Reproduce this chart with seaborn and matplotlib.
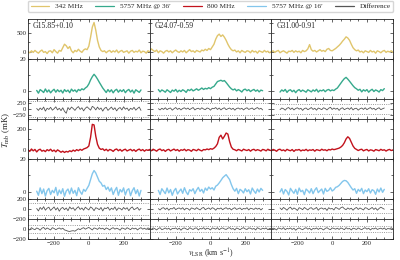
import numpy as np
import matplotlib
matplotlib.use("Agg")
import matplotlib.pyplot as plt
from matplotlib.lines import Line2D
from matplotlib.ticker import MultipleLocator, NullLocator
import seaborn as sns

# velocity channels (km/s)
v_full = np.arange(-350, 351, 10)
v_cut = np.arange(-300, 301, 10)

sources = ["G15.85+0.10", "G24.07-0.59", "G31.00-0.91"]

# 342 MHz (mK)
t342 = [
    [10, -20, 30, -10, 40, 0, -30, 20, 50, -10,
     10, -40, 20, 30, -20, 60, 10, -30, 40, 20,
     110, 200, 160, 90, 140, 30, -20, 40, 10, 70,
     20, -10, 50, 80, 60, 150, 380, 640, 760, 560,
     300, 130, 40, 10, 30, -20, 20, 40, -10, 30,
     0, 50, -20, 20, 40, -10, 10, 30, -30, 20,
     40, -10, 20, 0, 50, -20, 20, 10, -30, 30,
     10],
    [20, 80, 40, 10, 50, -20, 30, 10, -30, 20,
     40, 0, 30, -20, 20, 50, 10, -10, 30, 0,
     40, -20, 20, 60, 10, 30, -10, 40, 20, 0,
     50, 30, 70, 40, 90, 60, 130, 200, 330, 420,
     460, 400, 440, 380, 300, 200, 120, 60, 30, 50,
     0, 30, -20, 40, 10, -10, 30, 20, -20, 40,
     0, 20, -30, 30, 10, -10, 40, 0, 20, -20,
     10],
    [0, 30, -10, 20, 40, -20, 10, 30, 0, -30,
     20, 10, 40, -10, 30, 0, 20, -20, 40, 10,
     30, 80, 190, 60, 20, 40, 0, 30, 60, 20,
     40, 10, 70, 90, 40, 30, 60, 90, 130, 170,
     220, 280, 330, 390, 360, 300, 200, 110, 60, 30,
     50, 0, 20, -20, 30, 10, -10, 40, 0, 20,
     -30, 30, 10, -20, 20, 40, -10, 20, 0, 30,
     -10],
]

# 5757 MHz @ 36' (mK)
t36 = [
    [0.5, -1.2, 1.0, 0.2, -0.8, 1.4, -0.5, 0.8, -1.0, 0.3,
     1.2, -0.6, 0.9, -0.3, 0.6, -1.1, 1.0, -0.2, 0.7, -0.9,
     1.3, 0.0, 0.8, -0.5, 1.1, 0.4, 1.5, 0.9, 2.0, 2.8,
     4.5, 7.0, 9.0, 10.5, 9.2, 7.5, 5.6, 3.8, 2.0, 0.6,
     -0.8, 1.0, -0.4, 0.9, -1.0, 0.5, 1.2, -0.6, 0.8, -0.2,
     1.0, -0.9, 0.4, 1.1, -0.5, 0.7, -1.2, 0.9, 0.1, -0.7,
     0.8],
    [1.0, -0.4, 0.8, 0.2, -0.6, 0.9, 0.1, -0.8, 0.7, 0.0,
     1.1, -0.5, 0.6, -0.2, 0.9, 0.3, -0.7, 1.0, 0.4, 1.3,
     0.2, 0.8, 1.5, 0.6, 1.2, 2.0, 1.1, 1.8, 1.4, 2.2,
     1.6, 2.5, 3.0, 4.5, 6.0, 6.4, 6.8, 6.2, 6.6, 5.4,
     4.0, 2.6, 1.5, 0.8, 1.4, 0.2, 1.0, 0.4, -0.5, 0.9,
     1.3, 0.3, 1.0, -0.2, 0.6, 1.1, 0.0, 0.8, -0.4, 0.7,
     0.3],
    [-0.5, 0.8, 0.0, 1.1, -0.7, 0.5, 0.9, -0.3, 0.6, -0.9,
     0.4, 1.0, -0.2, 0.7, 0.1, -0.6, 0.9, 0.3, -0.4, 0.8,
     0.0, 1.2, -0.5, 0.6, 0.2, 0.9, -0.3, 0.7, 1.1, 0.2,
     0.8, 0.4, 1.3, 2.0, 3.5, 5.0, 6.5, 7.8, 8.6, 7.5,
     6.2, 4.8, 3.4, 2.2, 1.5, 0.6, 1.2, -0.4, 0.9, 0.1,
     1.0, -0.6, 0.5, 1.2, -0.2, 0.8, 0.3, -0.5, 1.0, 0.4,
     1.6],
]

# difference 342 MHz vs 36' (mK)
d36 = [
    [20, -60, 40, -30, 80, -90, 30, -20, 70, -50,
     10, 90, -40, 30, -70, 50, -100, -180, 60, -30,
     80, 20, -60, 40, 100, -20, 50, -80, 30, 90,
     20, -50, 110, 60, -40, 80, -20, 40, -90, 30,
     70, -60, 10, 80, -30, 50, -80, 20, 60, -40,
     90, -10, 40, -70, 30, -20, 70, -50, 20, 80,
     -60],
    [10, -40, 30, -20, 50, -30, 20, 40, -50, 10,
     60, -20, 30, -40, 20, 50, -10, 40, -30, 20,
     60, -40, 10, 30, -20, 50, 0, -30, 40, 20,
     -50, 30, 10, 60, -20, 40, -40, 20, 50, -30,
     10, 40, -20, 30, -50, 20, 40, -10, 30, -40,
     20, 50, -20, 10, 40, -30, 20, 60, -10, 30,
     -40],
    [-30, 40, 10, -50, 30, 60, -20, 40, -40, 20,
     50, -10, 30, -60, 20, 40, -30, 10, 60, -20,
     30, -50, 40, 10, -30, 50, 20, -40, 30, 70,
     -20, 40, -10, 30, -60, 20, 50, -30, 10, 40,
     -20, 60, -40, 20, 30, -50, 10, 40, -20, 50,
     -30, 20, 60, -10, 30, -40, 20, 50, -30, 10,
     40],
]

# 800 MHz (mK)
t800 = [
    [5, -10, 12, -5, 8, -15, 3, 10, -8, 0,
     -12, 6, -4, 10, -9, 2, -14, 4, -6, -18,
     -8, -20, -10, -16, -4, -12, 2, -8, 6, -3,
     9, 0, 12, 18, 25, 40, 120, 240, 235, 130,
     55, 20, 8, 14, -2, 10, -6, 8, 2, -10,
     6, 12, -4, 8, -8, 4, 10, -6, 2, 9,
     -5, 6, -10, 4, 11, -3, 7, -8, 5, 0,
     8],
    [8, -4, 10, 2, -8, 6, 12, -3, 5, -10,
     4, 9, -6, 3, 11, -2, 7, -8, 5, 0,
     10, -5, 6, 2, -9, 8, 3, -4, 10, 1,
     -6, 7, 4, 12, 6, 15, 10, 20, 35, 60,
     120, 140, 105, 130, 160, 150, 80, 30, 10, 5,
     -4, 8, 2, -6, 10, 3, -2, 7, -8, 5,
     9, -3, 6, 1, -7, 8, 4, -5, 10, 2,
     -3],
    [-5, 8, 2, -9, 6, 10, -3, 4, -7, 9,
     1, -4, 7, -10, 5, 2, 8, -6, 3, -2,
     9, -5, 4, 0, 7, -8, 6, 2, -3, 10,
     1, 5, -4, 8, 3, 12, 6, 10, 15, 20,
     30, 45, 70, 105, 125, 110, 75, 40, 18, 8,
     -2, 6, 10, -5, 3, 8, -6, 4, 1, -8,
     7, 2, -4, 9, 0, 5, -7, 3, 8, -2,
     4],
]

# 5757 MHz @ 16' (mK)
t16 = [
    [0.5, -2.0, 2.5, -1.0, 1.8, -2.5, 0.8, 2.2, -1.5, 1.0,
     -0.5, 2.8, -2.0, 1.2, -1.0, 2.0, -2.6, 0.6, 1.8, -1.2,
     2.4, -0.8, 1.0, -2.2, 2.6, 0.2, -1.4, 1.6, 0.4, 2.2,
     4.0, 7.5, 11.0, 13.0, 11.5, 9.0, 6.5, 5.5, 3.5, 4.0,
     1.5, 3.0, 0.5, 2.5, -1.5, 1.0, 2.8, -2.0, 1.5, 0.0,
     2.5, -1.8, 1.2, 2.0, -2.2, 0.8, 2.6, -1.0, 1.4, -2.4,
     1.0],
    [1.0, -1.5, 2.0, 0.5, -1.0, 2.4, -0.5, 1.5, -2.0, 0.8,
     2.2, -1.2, 0.4, 1.8, -0.8, 2.6, 0.0, -1.6, 1.4, 0.6,
     2.0, -1.0, 1.2, 2.8, 0.4, 1.6, -0.6, 2.4, 1.0, 3.0,
     1.8, 2.6, 1.2, 3.5, 4.2, 5.5, 7.0, 8.6, 9.6, 10.5,
     9.0, 7.5, 4.5, 2.0, 0.5, 2.2, -1.0, 1.6, 0.8, -0.6,
     2.0, 0.2, 1.4, -1.2, 2.4, 0.6, -0.8, 1.8, 0.0, 2.2,
     1.0],
    [0.0, 2.0, -1.2, 1.5, 0.4, -1.8, 2.2, 0.6, -0.8, 1.6,
     -1.4, 2.4, 0.2, 1.0, -1.6, 1.8, 0.8, -0.6, 2.0, -1.0,
     1.2, 2.6, -0.4, 0.8, 1.8, -1.2, 2.2, 0.4, 1.0, 2.6,
     0.6, 1.4, 2.8, 3.2, 4.0, 5.2, 6.4, 7.0, 6.8, 5.8,
     4.2, 2.6, 1.2, 2.0, -0.8, 1.6, 0.4, 2.2, -1.0, 1.2,
     0.2, 2.0, -0.6, 1.4, 0.8, -1.4, 1.8, 0.0, 2.4, -0.2,
     1.6],
]

# difference 800 MHz vs 16' (mK)
d16 = [
    [10, -40, 30, -10, 45, -25, 15, 35, -30, 5,
     40, -20, 25, -45, 10, 30, -15, 20, -35, 40,
     0, 25, -30, 15, 45, -10, 20, -25, 35, 5,
     -20, 40, 15, -35, 25, 10, -15, 30, -40, 20,
     5, 35, -25, 15, -10, 40, -30, 20, 10, -20,
     30, -5, 25, -35, 15, 40, -15, 5, 30, -25,
     10],
    [5, -20, 15, 25, -10, 20, -25, 10, 0, 30,
     -15, 10, 20, -5, 25, -20, 15, 5, -25, 20,
     10, -10, 25, 0, -20, 15, 30, -15, 5, 20,
     -10, 25, 10, -25, 15, 0, 20, -15, 10, 25,
     -5, 15, -20, 10, 25, -10, 5, 20, -15, 10,
     0, 25, -20, 15, 5, -10, 20, -5, 15, -20,
     10],
    [20, -15, 30, 5, -25, 15, 35, -10, 20, 0,
     -30, 25, 10, -15, 30, 5, -20, 15, 25, -10,
     5, 30, -25, 10, 20, -5, 15, -30, 25, 0,
     10, -20, 30, 15, -10, 25, 40, 5, -15, 20,
     -5, 15, -25, 10, 30, -10, 20, 0, -20, 25,
     15, -15, 5, 30, -10, 20, -25, 10, 35, 15,
     -5],
]

# difference 342 MHz vs 800 MHz (mK)
d800 = [
    [10, -20, 25, 0, -15, 20, 5, -25, 15, 30,
     -10, 20, 0, -20, 25, 10, -15, 5, 20, -5,
     15, -20, -30, -45, -50, -40, -35, -45, -20, 5,
     -15, 10, 25, -5, 15, 30, 5, -20, 20, 10,
     -10, 25, 0, 15, -15, 20, 5, -20, 10, 25,
     -5, 15, 0, -25, 20, 10, -10, 25, 5, -15,
     20, 0, 15, -20, 10, 25, -5, 15, -10, 20,
     5],
    [15, -10, 20, 5, -20, 10, 25, -15, 0, 20,
     -5, 15, -20, 10, 5, 20, -10, 15, -25, 10,
     20, 0, -15, 25, 5, -10, 15, 20, -20, 10,
     0, 25, -10, 15, 5, -20, 20, 10, -5, 25,
     -15, 10, 20, 0, -10, 15, 25, -5, 10, -20,
     20, 5, -15, 10, 25, 0, -10, 20, 15, -5,
     10, -20, 25, 5, -10, 15, 0, 20, -15, 10,
     5],
    [-10, 15, 5, -20, 20, 10, -5, 25, -15, 10,
     0, 20, -10, 15, -25, 5, 20, 0, -15, 10,
     25, -5, 15, -20, 10, 0, 20, -10, 15, 5,
     -20, 10, 25, 0, -15, 20, 10, -5, 15, -10,
     20, 5, -15, 25, 0, 10, -20, 15, 5, -10,
     20, 0, -15, 10, 25, -5, 15, -20, 10, 0,
     20, -10, 5, 15, -5, 20, -15, 10, 0, 25,
     -5],
]

# noise levels drawn as dotted lines in the difference rows
lev36 = [330, 260, 200]
lev16 = [120, 90, 90]
lev800 = [85, 60, 60]

c342 = "#e0c56c"
c36 = "#36a98c"
c800 = "#c2121c"
c16 = "#83c6ec"
cdiff = "#555555"

sns.set_theme(style="ticks")
plt.rcParams["font.family"] = ["Liberation Serif", "DejaVu Serif"]
plt.rcParams["mathtext.fontset"] = "stix"
plt.rcParams["font.size"] = 5.5

fig, axes = plt.subplots(
    7, 3, figsize=(4, 2.6), dpi=100, sharex=True, sharey="row",
    gridspec_kw=dict(height_ratios=[2, 2, 1, 2, 2, 1, 1], hspace=0, wspace=0),
)
fig.subplots_adjust(left=0.07, right=0.9825, top=0.927, bottom=0.081)

rows = [
    (v_full, t342, c342, None),
    (v_cut, t36, c36, None),
    (v_cut, d36, cdiff, lev36),
    (v_full, t800, c800, None),
    (v_cut, t16, c16, None),
    (v_cut, d16, cdiff, lev16),
    (v_full, d800, cdiff, lev800),
]
ylims = [(-180, 850), (-4.8, 20), (-420, 420), (-80, 290), (-4.2, 20), (-200, 200), (-200, 200)]
yticks = [[0, 500], [0, 20], [-250, 0, 250], [0, 200], [0, 20], [-200, 0, 200], [-200, 0]]
yminor = [250, 10, None, 100, 10, None, None]

for r, (vel, data, col, lev) in enumerate(rows):
    for c in range(3):
        ax = axes[r, c]
        lw = 0.6 if lev is not None else 1.0
        sns.lineplot(x=vel, y=data[c], ax=ax, color=col, linewidth=lw)
        if lev is not None:
            ax.axhline(lev[c], color="#777777", ls=":", lw=0.6)
            ax.axhline(-lev[c], color="#777777", ls=":", lw=0.6)
        ax.set_ylim(*ylims[r])
        ax.set_yticks(yticks[r])
        ax.set_xlim(-350, 350)
        ax.xaxis.set_major_locator(MultipleLocator(200))
        ax.xaxis.set_minor_locator(MultipleLocator(50))
        if yminor[r]:
            ax.yaxis.set_minor_locator(MultipleLocator(yminor[r]))
        else:
            ax.yaxis.set_minor_locator(NullLocator())
        ax.tick_params(which="both", direction="in", top=True, right=True,
                       labelsize=4.8, pad=1.2, width=0.5)
        ax.tick_params(which="major", length=2.2)
        ax.tick_params(which="minor", length=1.2)
        for s in ax.spines.values():
            s.set_linewidth(0.6)
            s.set_color("#222222")
        ax.set_xlabel("")
        ax.set_ylabel("")

for c in range(3):
    axes[0, c].text(0.04, 0.93, sources[c], transform=axes[0, c].transAxes,
                    ha="left", va="top", fontsize=5.6)

fig.text(0.002, 0.5, r"$T_{\rm mb}$ (mK)", rotation=90, ha="left", va="center", fontsize=6.3)
fig.text(0.526, 0.0, r"$v_{\rm LSR}$ (km s$^{-1}$)", ha="center", va="bottom", fontsize=5.8)

handles = [Line2D([], [], color=k, lw=0.9) for k in [c342, c36, c800, c16, cdiff]]
labels = ["342 MHz", "5757 MHz @ 36\u2032", "800 MHz", "5757 MHz @ 16\u2032", "Difference"]
fig.legend(handles, labels, loc="upper left", bbox_to_anchor=(0.07, 0.997, 0.9125, 0.0),
           mode="expand", ncol=5, fontsize=5.2, frameon=True, borderaxespad=0,
           handlelength=2.6, borderpad=0.35, edgecolor="#cccccc")

fig.savefig("out.png", dpi=100)
